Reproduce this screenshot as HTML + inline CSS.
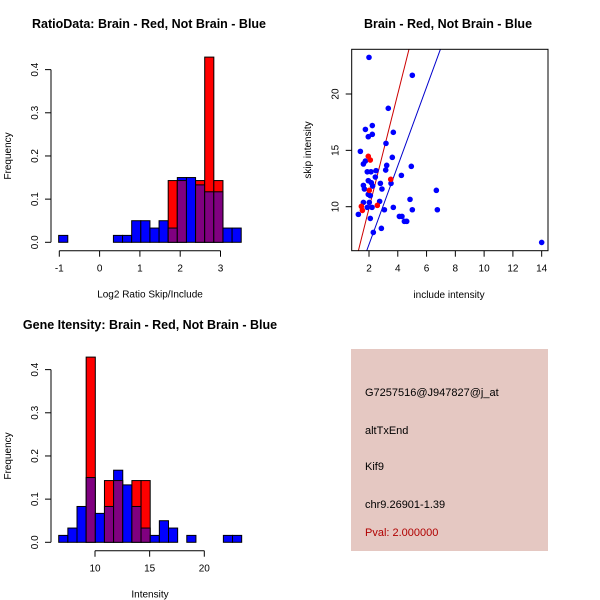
<!DOCTYPE html>
<html><head><meta charset="utf-8"><style>
body{margin:0;background:#fff}
svg{display:block;font-family:"Liberation Sans",sans-serif}
</style></head><body>
<svg id="c" width="600" height="600" xmlns="http://www.w3.org/2000/svg">
<rect x="351" y="349" width="197" height="202" fill="#e5c8c2"/>
<text x="365" y="396" font-size="11">G7257516@J947827@j_at</text>
<text x="365" y="434" font-size="11">altTxEnd</text>
<text x="365" y="470" font-size="11">Kif9</text>
<text x="365" y="508" font-size="11">chr9.26901-1.39</text>
<text x="365" y="536" font-size="11" fill="#b00000">Pval: 2.000000</text>
</svg>
<script>
// ---- Histogram 1 data (Log2 ratio) ----
const h1Start = -1.016;
const h1Width = 0.2265;
const h1Blue = [0.016,0,0,0,0,0,0.016,0.016,0.05,0.05,0.033,0.05,0.033,0.15,0.15,0.133,0.117,0.117,0.033,0.033];
const h1Red  = [0,0,0,0,0,0,0,0,0,0,0,0,0.143,0.143,0,0.143,0.429,0.143,0,0];
const h1XTicks = [-1,0,1,2,3];
const yTicks = [0,0.1,0.2,0.3,0.4];
const yTickLabels = ["0.0","0.1","0.2","0.3","0.4"];
// ---- Histogram 2 data (Intensity) ----
const h2Start = 6.68;
const h2Width = 0.837;
const h2Blue = [0.016,0.033,0.083,0.15,0.067,0.083,0.167,0.133,0.083,0.033,0.016,0.05,0.033,0,0.016,0,0,0,0.016,0.016];
const h2Red  = [0,0,0,0.429,0,0.143,0.143,0,0.143,0.143,0,0,0,0,0,0,0,0,0,0];
const h2XTicks = [10,15,20];
// ---- Scatter data ----
const blueX = [2.0,5.01,3.34,2.23,1.75,2.23,1.95,3.69,3.18,1.40,3.62,1.75,1.61,3.23,4.94,2.49,3.16,1.88,2.14,4.25,2.44,1.95,2.16,2.79,1.61,3.53,2.25,1.68,2.90,6.68,1.95,2.09,4.85,2.74,1.61,2.02,1.88,2.21,3.69,3.07,5.01,6.75,1.26,2.09,4.11,4.29,4.46,4.62,2.86,2.30,14.0];
const blueY = [23.25,21.66,18.73,17.2,16.86,16.42,16.21,16.6,15.62,14.91,14.38,14.05,13.79,13.67,13.58,13.2,13.25,13.1,13.1,12.78,12.63,12.31,12.13,12.07,11.89,12.07,11.83,11.57,11.57,11.45,11.09,10.98,10.65,10.47,10.38,10.38,9.94,9.94,9.94,9.73,9.73,9.73,9.32,8.96,9.14,9.14,8.70,8.70,8.08,7.72,6.83];
const redX = [1.95,2.09,2.02,3.51,1.47,1.54,2.58];
const redY = [14.47,14.14,11.45,12.43,10.03,9.67,10.12];
const lineIntercepts = [-0.31,-0.33];
const lineSlopes = [5.08,3.49];
const lineColors = ["#cc0000","#0000cc"];
const sxTicks = [2,4,6,8,10,12,14];
const syTicks = [10,15,20];

const svg = document.getElementById('c');
const NS = 'http://www.w3.org/2000/svg';
function mk(tag, attrs, parent){const e=document.createElementNS(NS,tag);for(const k in attrs)e.setAttribute(k,attrs[k]);(parent||svg).appendChild(e);return e;}
function txt(x,y,s,size,opts){const t=mk('text',Object.assign({x:x,y:y,'font-size':size,'text-anchor':'middle'},opts||{}));t.textContent=s;return t;}

function hist(cfg){
  const xs = v => cfg.px0 + (v - cfg.d0) * cfg.pxPerUnit;
  const ys = v => cfg.y0 - v * cfg.pxPerY;
  const g = mk('g',{});
  
  
  for(let i=0;i<cfg.blue.length;i++){
    const l = xs(cfg.start + i*cfg.width), r = xs(cfg.start+(i+1)*cfg.width);
    const b = cfg.blue[i], rd = cfg.red[i];
    const hi = Math.max(b,rd), lo = Math.min(b,rd);
    if(hi<=0) continue;
    const topCol = b>=rd ? '#0000ff' : '#ff0000';
    const r1 = mk('rect',{x:l,y:ys(hi),width:r-l,height:ys(0)-ys(hi),fill:topCol,stroke:'#000','stroke-width':1},g);
    
    
    if(lo>0){
      const r2 = mk('rect',{x:l,y:ys(lo),width:r-l,height:ys(0)-ys(lo),fill:'#800080',stroke:'#000','stroke-width':1},g);
      
      
    }
  }
  mk('line',{x1:cfg.axX,x2:cfg.axX,y1:ys(0),y2:ys(0.4),stroke:'#000'},g);
  yTicks.forEach((v,i)=>{
    mk('line',{x1:cfg.axX-6,x2:cfg.axX,y1:ys(v),y2:ys(v),stroke:'#000'},g);
    const t=txt(cfg.axX-13,ys(v),yTickLabels[i],10,{transform:`rotate(-90 ${cfg.axX-13} ${ys(v)})`});
    
    
  });
  const t0=cfg.xticks[0], t1=cfg.xticks[cfg.xticks.length-1];
  mk('line',{x1:xs(t0),x2:xs(t1),y1:cfg.axY,y2:cfg.axY,stroke:'#000'},g);
  cfg.xticks.forEach(v=>{
    mk('line',{x1:xs(v),x2:xs(v),y1:cfg.axY,y2:cfg.axY+6,stroke:'#000'},g);
    const t=txt(xs(v),cfg.axY+21,String(v),10);
    
    
  });
  const tt=txt(cfg.titleX,cfg.titleY,cfg.title,12.5,{'font-weight':'bold'});
  
  
  const xl=txt(cfg.xlX,cfg.axY+47,cfg.xlabel,10);
  
  
  const yl=txt(11,ys(0.2),'Frequency',10,{transform:`rotate(-90 11 ${ys(0.2)})`});
  
  
}

hist({name:'ratio-histogram',start:h1Start,width:h1Width,blue:h1Blue,red:h1Red,xticks:h1XTicks,
  px0:59.3,d0:-1,pxPerUnit:40.3,y0:242.3,pxPerY:431.7,axX:51,axY:250.7,
  title:'RatioData: Brain - Red, Not Brain - Blue',titleX:149,titleY:28,xlabel:'Log2 Ratio Skip/Include',xlX:150});
hist({name:'intensity-histogram',start:h2Start,width:h2Width,blue:h2Blue,red:h2Red,xticks:h2XTicks,
  px0:95,d0:10,pxPerUnit:10.93,y0:542.3,pxPerY:431.7,axX:51,axY:550.7,
  title:'Gene Itensity: Brain - Red, Not Brain - Blue',titleX:150,titleY:329,xlabel:'Intensity',xlX:150});

(function(){
  const bx0=351.7,bx1=548,by0=49.3,by1=250.7;
  const xs=v=>369+(v-2)*14.39;
  const ys=v=>206.7-(v-10)*11.27;
  const g=mk('g',{});
  
  
  const cp=mk('clipPath',{id:'sc'},g);
  mk('rect',{x:bx0,y:by0,width:bx1-bx0,height:by1-by0},cp);
  lineIntercepts.forEach((a,i)=>{
    const b=lineSlopes[i];
    const xa=0, xb=20;
    const l=mk('line',{x1:xs(xa),y1:ys(a+b*xa),x2:xs(xb),y2:ys(a+b*xb),stroke:lineColors[i],'stroke-width':1,'clip-path':'url(#sc)'},g);
    
    
  });
  blueX.forEach((v,i)=>{
    const c=mk('circle',{cx:xs(v),cy:ys(blueY[i]),r:2.8,fill:'#0000ff'},g);
    
    
  });
  redX.forEach((v,i)=>{
    const c=mk('circle',{cx:xs(v),cy:ys(redY[i]),r:2.8,fill:'#ff0000'},g);
    
    
  });
  mk('rect',{x:bx0,y:by0,width:bx1-bx0,height:by1-by0,fill:'none',stroke:'#000'},g);
  sxTicks.forEach(v=>{
    mk('line',{x1:xs(v),x2:xs(v),y1:by1,y2:by1+6,stroke:'#000'},g);
    const t=txt(xs(v),by1+21,String(v),10);
    
    
  });
  syTicks.forEach(v=>{
    mk('line',{x1:bx0-6,x2:bx0,y1:ys(v),y2:ys(v),stroke:'#000'},g);
    const t=txt(bx0-13,ys(v),String(v),10,{transform:`rotate(-90 ${bx0-13} ${ys(v)})`});
    
    
  });
  const tt=txt(448,28,'Brain - Red, Not Brain - Blue',12.5,{'font-weight':'bold'});
  
  
  const xl=txt(449,298,'include intensity',10);
  
  
  const yl=txt(311,150,'skip intensity',10,{transform:'rotate(-90 311 150)'});
  
  
})();
</script>
</body></html>
